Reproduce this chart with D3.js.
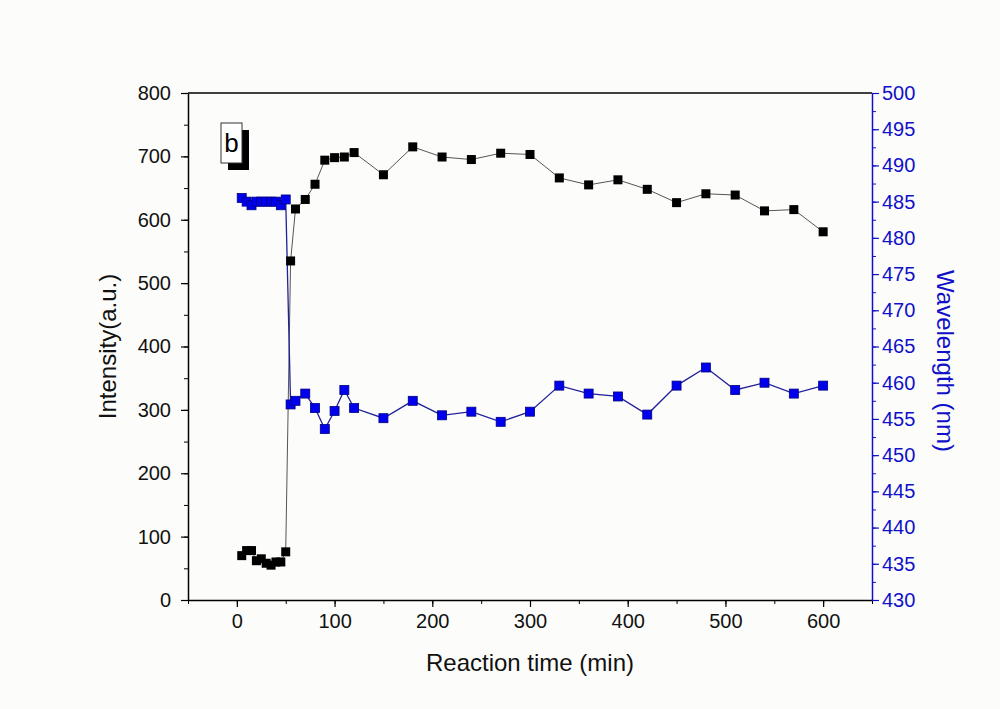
<!DOCTYPE html>
<html>
<head>
<meta charset="utf-8">
<script src="https://cdn.jsdelivr.net/npm/d3@7"></script>
<style>
  body { margin: 0; background: #fcfdfa; }
  svg { display: block; }
  text { font-family: "Liberation Sans", Arial, sans-serif; }
</style>
</head>
<body>
<div id="chart"></div>
<script>
// reaction time (min)
const time = [5, 10, 15, 20, 25, 30, 35, 40, 45, 50, 55, 60, 70, 80, 90, 100, 110, 120, 150,
  180, 210, 240, 270, 300, 330, 360, 390, 420, 450, 480, 510, 540, 570, 600];
// intensity (a.u.), left axis
const intensity = [70, 78, 78, 62, 65, 58, 55, 60, 60, 76, 535, 617, 632, 656, 694, 698, 699, 706, 671,
  715, 699, 695, 705, 703, 666, 655, 663, 648, 627, 641, 639, 614, 616, 581];
// wavelength (nm), right axis
const wavelength = [485.5, 485, 484.5, 485, 485, 485, 485, 485, 484.5, 485.3, 457, 457.5, 458.5, 456.5, 453.6, 456.1, 459, 456.5, 455.1,
  457.5, 455.5, 456, 454.6, 456, 459.6, 458.5, 458.1, 455.6, 459.6, 462.1, 459, 460, 458.5, 459.6];

const xTicks = [0, 100, 200, 300, 400, 500, 600];
const yTicks = [0, 100, 200, 300, 400, 500, 600, 700, 800];
const y2Ticks = d3.range(430, 501, 5);

const W = 1000, H = 709;
const margin = { top: 93, right: 128, bottom: 109, left: 188 };
const width = W - margin.left - margin.right,
  height = H - margin.top - margin.bottom;

const blue = "#1010c8";

const svg = d3.select("#chart").append("svg")
  .attr("width", W).attr("height", H);
svg.append("rect").attr("width", W).attr("height", H).attr("fill", "#fcfdfa");

const g = svg.append("g")
  .attr("transform", "translate(" + margin.left + "," + margin.top + ")");

const x = d3.scaleLinear().domain([-50, 650]).range([0, width]);
const y = d3.scaleLinear().domain([0, 800]).range([height, 0]);
const y2 = d3.scaleLinear().domain([430, 500]).range([height, 0]);

// minor ticks
g.append("g").attr("transform", "translate(0," + height + ")")
  .call(d3.axisBottom(x).tickValues(d3.range(-50, 651, 50)).tickSize(4).tickFormat(""))
  .call(a => a.select(".domain").remove());
g.append("g")
  .call(d3.axisLeft(y).tickValues(d3.range(0, 801, 50)).tickSize(4).tickFormat(""))
  .call(a => a.select(".domain").remove());
g.append("g").attr("transform", "translate(" + width + ",0)")
  .call(d3.axisRight(y2).tickValues(d3.range(430, 501, 2.5)).tickSize(4).tickFormat(""))
  .call(a => a.select(".domain").remove())
  .selectAll("line").attr("stroke", blue);

// major axes
const xa = g.append("g").attr("transform", "translate(0," + height + ")")
  .call(d3.axisBottom(x).tickValues(xTicks).tickSize(7).tickSizeOuter(0).tickPadding(7));
const ya = g.append("g")
  .call(d3.axisLeft(y).tickValues(yTicks).tickSize(7).tickSizeOuter(0).tickPadding(10));
const y2a = g.append("g").attr("transform", "translate(" + width + ",0)")
  .call(d3.axisRight(y2).tickValues(y2Ticks).tickSize(7).tickSizeOuter(0).tickPadding(3));

[xa, ya, y2a].forEach(a => {
  a.selectAll("text").attr("font-size", 20).attr("font-family", "Liberation Sans, Arial, sans-serif");
  a.select(".domain").attr("stroke-width", 1.5);
  a.selectAll(".tick line").attr("stroke-width", 1.2);
});
xa.selectAll("text").attr("fill", "#111");
ya.selectAll("text").attr("fill", "#111");
y2a.selectAll("text").attr("fill", blue);
y2a.select(".domain").attr("stroke", blue);
y2a.selectAll(".tick line").attr("stroke", blue);

// top frame line
g.append("line").attr("x1", 0).attr("x2", width).attr("y1", 0).attr("y2", 0)
  .attr("stroke", "#000").attr("stroke-width", 1.5);

const pts = time.map((t, i) => ({ t: t, v: intensity[i], w: wavelength[i] }));

// lines
g.append("path").datum(pts)
  .attr("fill", "none").attr("stroke", "#555").attr("stroke-width", 1)
  .attr("d", d3.line().x(d => x(d.t)).y(d => y(d.v)));
g.append("path").datum(pts)
  .attr("fill", "none").attr("stroke", "#20209a").attr("stroke-width", 1.3)
  .attr("d", d3.line().x(d => x(d.t)).y(d => y2(d.w)));

const s = 9;
g.append("g").selectAll("rect").data(pts).join("rect")
  .attr("x", d => x(d.t) - s / 2).attr("y", d => y(d.v) - s / 2)
  .attr("width", s).attr("height", s).attr("fill", "#000");
g.append("g").selectAll("rect").data(pts).join("rect")
  .attr("x", d => x(d.t) - s / 2).attr("y", d => y2(d.w) - s / 2)
  .attr("width", s).attr("height", s)
  .attr("fill", "#0000ee").attr("stroke", "#000080").attr("stroke-width", 0.8);

// panel label "b"
const lb = g.append("g").attr("transform", "translate(33,30)");
lb.append("rect").attr("x", 7).attr("y", 7).attr("width", 21).attr("height", 40).attr("fill", "#000");
lb.append("rect").attr("x", 0).attr("y", 0).attr("width", 21).attr("height", 40)
  .attr("fill", "#fff").attr("stroke", "#333").attr("stroke-width", 1);
lb.append("text").attr("x", 10.5).attr("y", 29).attr("text-anchor", "middle")
  .attr("font-size", 26).attr("fill", "#000").text("b");

// axis titles
svg.append("text")
  .attr("x", margin.left + x(300)).attr("y", 671)
  .attr("text-anchor", "middle").attr("font-size", 24).attr("fill", "#111")
  .text("Reaction time (min)");
svg.append("text")
  .attr("transform", "translate(116," + (margin.top + y(400)) + ") rotate(-90)")
  .attr("text-anchor", "middle").attr("font-size", 24).attr("fill", "#111")
  .text("Intensity(a.u.)");
svg.append("text")
  .attr("transform", "translate(937," + (margin.top + y2(463)) + ") rotate(90)")
  .attr("text-anchor", "middle").attr("font-size", 24).attr("fill", blue)
  .text("Wavelength (nm)");
</script>
</body>
</html>
